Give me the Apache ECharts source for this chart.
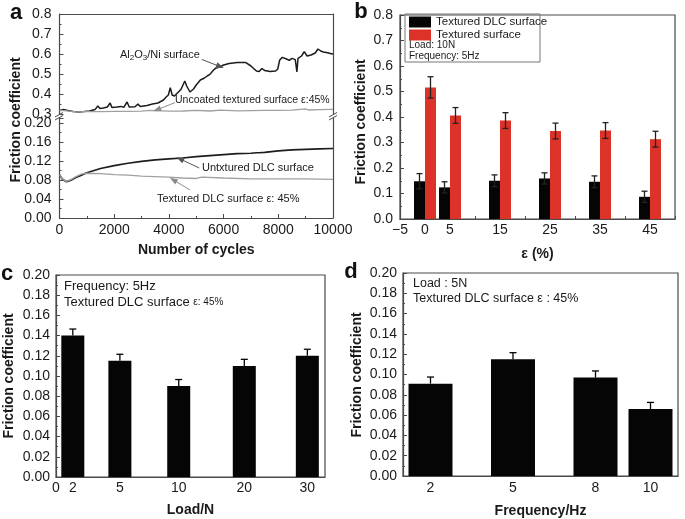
<!DOCTYPE html>
<html><head><meta charset="utf-8">
<script src="https://cdn.jsdelivr.net/npm/echarts@6/dist/echarts.min.js"></script>
<style>html,body{margin:0;padding:0;background:#fff}#c{width:685px;height:519px}</style>
</head><body><div id="c"></div>
<script>
// ---------- Panel a: friction vs number of cycles ----------
const cyclesAl = [0,150,300,500,700,900,1100,1300,1400,1480,1600,1750,1850,1920,2100,2250,2350,2470,2550,2760,2870,2950,3200,3400,3600,3800,3900,3980,4050,4120,4200,4350,4450,4580,4650,4770,4900,5000,5150,5300,5400,5500,5600,5700,5850,6000,6200,6500,6800,7000,7200,7300,7400,7500,7700,7900,7980,8050,8150,8300,8400,8500,8620,8680,8720,8850,8950,9050,9200,9350,9450,9550,9650,9800,9900,10000];
const fricAl   = [0.318,0.322,0.318,0.312,0.310,0.312,0.315,0.322,0.340,0.328,0.330,0.335,0.355,0.332,0.335,0.338,0.333,0.360,0.335,0.336,0.350,0.338,0.343,0.350,0.355,0.370,0.385,0.395,0.432,0.395,0.390,0.410,0.425,0.465,0.440,0.410,0.425,0.445,0.470,0.480,0.490,0.498,0.515,0.528,0.535,0.545,0.552,0.557,0.558,0.540,0.515,0.512,0.527,0.518,0.512,0.515,0.525,0.570,0.583,0.575,0.568,0.578,0.572,0.510,0.578,0.590,0.612,0.590,0.595,0.605,0.625,0.615,0.610,0.606,0.603,0.600];

const cyclesUnc = [0,300,600,1000,1500,2000,2500,3000,3300,3350,4000,4500,5000,5050,5500,5900,5950,6500,7000,7500,8000,8500,9000,9100,9500,10000];
const fricUnc   = [0.318,0.316,0.311,0.312,0.312,0.313,0.313,0.314,0.318,0.313,0.314,0.315,0.318,0.314,0.315,0.319,0.315,0.316,0.317,0.318,0.318,0.319,0.326,0.320,0.322,0.323];

const cyclesUnt = [0,100,250,400,600,800,1000,1500,2000,2500,3000,3500,4000,4500,5000,5500,6000,6500,7000,7200,7250,7300,7500,8000,8500,9000,9500,10000];
const fricUnt   = [0.091,0.082,0.076,0.079,0.085,0.090,0.095,0.104,0.110,0.115,0.119,0.122,0.124,0.126,0.129,0.131,0.133,0.135,0.136,0.137,0.140,0.137,0.138,0.141,0.143,0.144,0.145,0.146];

const cyclesTex = [0,100,250,400,600,800,1000,1500,2000,2500,3000,3500,4000,4500,5000,5200,5250,6000,7000,8000,9000,10000];
const fricTex   = [0.091,0.082,0.077,0.080,0.087,0.092,0.094,0.093,0.091,0.090,0.088,0.087,0.086,0.084,0.083,0.086,0.083,0.084,0.082,0.082,0.082,0.081];

// ---------- Panel b: friction vs texture density ----------
const epsVals   = [0, 5, 15, 25, 35, 45];
const epsTicks  = [-5, 0, 5, 15, 25, 35, 45];
const dlcB      = [0.148, 0.124, 0.150, 0.159, 0.146, 0.087];
const dlcBErr   = [0.030, 0.022, 0.023, 0.022, 0.023, 0.022];
const texB      = [0.516, 0.406, 0.386, 0.345, 0.347, 0.313];
const texBErr   = [0.042, 0.031, 0.031, 0.031, 0.031, 0.031];

// ---------- Panel c: friction vs load ----------
const loadLabels = ['2', '5', '10', '20', '30'];
const loadPos    = [1, 3.8, 7.3, 11.2, 14.95];   // plotting positions used by the original figure
const fricC      = [0.140, 0.115, 0.090, 0.110, 0.120];
const errC       = [0.0065, 0.0065, 0.0065, 0.0065, 0.0065];

// ---------- Panel d: friction vs frequency ----------
const freqVals = [2, 5, 8, 10];
const fricD    = [0.091, 0.115, 0.097, 0.066];
const errD     = [0.0065, 0.0065, 0.0065, 0.0065];

// ---------- helpers ----------
const FONT = 'Liberation Sans, Arial, Helvetica, sans-serif';
const TXT = '#1a1a1a';
const FRAME = '#4a4a4a';
const zip = (xs, ys) => xs.map((x, i) => [x, ys[i]]);
const zip3 = (xs, ys, es) => xs.map((x, i) => [x, ys[i], es[i]]);

function barRender(offsetPx, widthPx, color, capPx, errColor, lowerCap) {
  return function (params, api) {
    const x = api.value(0), y = api.value(1), e = api.value(2);
    const base = api.coord([x, 0]);
    const top = api.coord([x, y]);
    const hi = api.coord([x, y + e])[1];
    const lo = api.coord([x, y - e])[1];
    const cx = base[0] + offsetPx;
    const ls = { stroke: errColor, lineWidth: 1.3 };
    const children = [
      { type: 'rect', shape: { x: cx - widthPx / 2, y: top[1], width: widthPx, height: base[1] - top[1] }, style: { fill: color } },
      { type: 'line', shape: { x1: cx, y1: hi, x2: cx, y2: lowerCap ? lo : top[1] }, style: ls },
      { type: 'line', shape: { x1: cx - capPx / 2, y1: hi, x2: cx + capPx / 2, y2: hi }, style: ls }
    ];
    if (lowerCap) children.push({ type: 'line', shape: { x1: cx - capPx / 2, y1: lo, x2: cx + capPx / 2, y2: lo }, style: ls });
    return { type: 'group', children };
  };
}

const tickLabel = (size) => ({ color: TXT, fontFamily: FONT, fontSize: size });
const lineAx = { show: true, onZero: false, lineStyle: { color: FRAME, width: 1.2 } };
const inTick = { show: true, inside: true, length: 4, lineStyle: { color: FRAME } };
const inMinor = (n) => ({ show: true, splitNumber: n, length: 2, lineStyle: { color: FRAME } });

const arrowStyle = (color) => ({
  silent: true, animation: false, symbol: ['none', 'triangle'], symbolSize: [6, 8],
  label: { show: false }, lineStyle: { color: color, width: 1, type: 'solid' }, emphasis: { disabled: true }
});

const option = {
  animation: false,
  backgroundColor: '#fff',
  textStyle: { fontFamily: FONT },
  grid: [
    { left: 59.5, top: 14, width: 273.5, height: 100 },     // a upper
    { left: 59.5, top: 118, width: 273.5, height: 100 },    // a lower
    { left: 400, top: 15, width: 275, height: 204, show: true, borderColor: FRAME, borderWidth: 1.2 },  // b
    { left: 56, top: 275, width: 269, height: 202, show: true, borderColor: FRAME, borderWidth: 1.2 },  // c
    { left: 403, top: 273, width: 275, height: 209, show: true, borderColor: FRAME, borderWidth: 1.2 }  // d
  ],
  xAxis: [
    { gridIndex: 0, type: 'value', min: 0, max: 10000, position: 'top', axisLine: lineAx, axisTick: { show: false }, axisLabel: { show: false }, splitLine: { show: false } },
    { gridIndex: 1, type: 'value', min: 0, max: 10000, interval: 2000, position: 'bottom', axisLine: lineAx,
      axisTick: inTick, minorTick: inMinor(2), axisLabel: Object.assign(tickLabel(14), { margin: 5, formatter: v => String(v) }), splitLine: { show: false },
      name: 'Number of cycles', nameLocation: 'middle', nameGap: 25, nameTextStyle: { fontFamily: FONT, fontSize: 14, fontWeight: 'bold', color: TXT } },
    { gridIndex: 2, type: 'value', min: -5, max: 50, interval: 5, axisLine: lineAx,
      axisTick: { show: true, inside: true, length: 3, lineStyle: { color: FRAME } },
      axisLabel: Object.assign(tickLabel(14), { margin: 4, customValues: epsTicks, formatter: v => (v < 0 ? '\u2212' + Math.abs(v) : String(v)) }),
      splitLine: { show: false },
      name: '\u03b5 (%)', nameLocation: 'middle', nameGap: 28, nameTextStyle: { fontFamily: FONT, fontSize: 14, fontWeight: 'bold', color: TXT } },
    { gridIndex: 3, type: 'value', min: 0, max: 16, axisLine: lineAx, axisTick: { show: false },
      axisLabel: Object.assign(tickLabel(14), { margin: 4, customValues: [0].concat(loadPos),
        formatter: v => { const i = loadPos.indexOf(v); return i < 0 ? '0' : loadLabels[i]; } }),
      splitLine: { show: false },
      name: 'Load/N', nameLocation: 'middle', nameGap: 26, nameTextStyle: { fontFamily: FONT, fontSize: 14, fontWeight: 'bold', color: TXT } },
    { gridIndex: 4, type: 'value', min: 1, max: 11, axisLine: lineAx, axisTick: { show: false },
      axisLabel: Object.assign(tickLabel(14), { margin: 5, customValues: freqVals, formatter: v => String(v) }),
      splitLine: { show: false },
      name: 'Frequency/Hz', nameLocation: 'middle', nameGap: 28, nameTextStyle: { fontFamily: FONT, fontSize: 14, fontWeight: 'bold', color: TXT } }
  ],
  yAxis: [
    { gridIndex: 0, type: 'value', min: 0.3, max: 0.8, interval: 0.1, axisLine: lineAx, axisTick: inTick, minorTick: inMinor(2),
      axisLabel: Object.assign(tickLabel(14), { margin: 8, formatter: v => v.toFixed(1) }), splitLine: { show: false } },
    { gridIndex: 1, type: 'value', min: 0, max: 0.21, interval: 0.04, axisLine: lineAx, axisTick: inTick, minorTick: inMinor(2),
      axisLabel: Object.assign(tickLabel(14), { margin: 8, showMaxLabel: false, formatter: v => (Math.abs(v / 0.04 - Math.round(v / 0.04)) < 1e-6 ? v.toFixed(2) : '') }), splitLine: { show: false } },
    { gridIndex: 0, type: 'value', min: 0.3, max: 0.8, position: 'right', axisLine: lineAx, axisTick: { show: false }, axisLabel: { show: false }, splitLine: { show: false } },
    { gridIndex: 1, type: 'value', min: 0, max: 0.21, position: 'right', axisLine: lineAx, axisTick: { show: false }, axisLabel: { show: false }, splitLine: { show: false } },
    { gridIndex: 2, type: 'value', min: 0, max: 0.8, interval: 0.1, axisLine: lineAx, axisTick: inTick, minorTick: inMinor(2),
      axisLabel: Object.assign(tickLabel(14), { margin: 7, formatter: v => v.toFixed(1) }), splitLine: { show: false } },
    { gridIndex: 3, type: 'value', min: 0, max: 0.2, interval: 0.02, axisLine: lineAx, axisTick: inTick, minorTick: inMinor(2),
      axisLabel: Object.assign(tickLabel(14), { margin: 6, formatter: v => v.toFixed(2) }), splitLine: { show: false } },
    { gridIndex: 4, type: 'value', min: 0, max: 0.2, interval: 0.02, axisLine: lineAx, axisTick: inTick, minorTick: inMinor(2),
      axisLabel: Object.assign(tickLabel(14), { margin: 6, formatter: v => v.toFixed(2) }), splitLine: { show: false } }
  ],
  legend: {
    left: 409, top: 16, padding: 0, orient: 'vertical', itemWidth: 22, itemHeight: 11, itemGap: 1, icon: 'rect',
    textStyle: { fontFamily: FONT, fontSize: 11.5, color: TXT }, data: ['Textured DLC surface', 'Textured surface']
  },
  series: [
    { name: 'Al2O3/Ni surface', type: 'line', xAxisIndex: 0, yAxisIndex: 0, data: zip(cyclesAl, fricAl), showSymbol: false,
      lineStyle: { color: '#1c1c1c', width: 1.5 },
      markLine: Object.assign(arrowStyle('#555'), { data: [[{ coord: [5200, 0.573] }, { coord: [5870, 0.537] }]] }) },
    { name: 'Uncoated textured surface', type: 'line', xAxisIndex: 0, yAxisIndex: 0, data: zip(cyclesUnc, fricUnc), showSymbol: false,
      lineStyle: { color: '#a0a0a0', width: 1.3 },
      markLine: Object.assign(arrowStyle('#8a8a8a'), { data: [[{ coord: [4220, 0.357] }, { coord: [3565, 0.321] }]] }) },
    { name: 'Untxtured DLC surface', type: 'line', xAxisIndex: 1, yAxisIndex: 1, data: zip(cyclesUnt, fricUnt), showSymbol: false,
      lineStyle: { color: '#1c1c1c', width: 1.7 },
      markLine: Object.assign(arrowStyle('#555'), { data: [[{ coord: [5110, 0.105] }, { coord: [4405, 0.124] }]] }) },
    { name: 'Textured DLC surface a', type: 'line', xAxisIndex: 1, yAxisIndex: 1, data: zip(cyclesTex, fricTex), showSymbol: false,
      lineStyle: { color: '#a0a0a0', width: 1.3 },
      markLine: Object.assign(arrowStyle('#8a8a8a'), { data: [[{ coord: [4770, 0.059] }, { coord: [4160, 0.080] }]] }) },

    { name: 'Textured DLC surface', type: 'custom', xAxisIndex: 2, yAxisIndex: 4, itemStyle: { color: '#050505' },
      data: zip3(epsVals, dlcB, dlcBErr), renderItem: barRender(-5.5, 11, '#050505', 6, '#222', true) },
    { name: 'Textured surface', type: 'custom', xAxisIndex: 2, yAxisIndex: 4, itemStyle: { color: '#dc3228' },
      data: zip3(epsVals, texB, texBErr), renderItem: barRender(5.5, 11, '#dc3228', 6, '#222', true) },

    { name: 'Load', type: 'custom', xAxisIndex: 3, yAxisIndex: 5, data: zip3(loadPos, fricC, errC),
      renderItem: barRender(0, 23, '#050505', 7, '#050505', false) },
    { name: 'Frequency', type: 'custom', xAxisIndex: 4, yAxisIndex: 6, data: zip3(freqVals, fricD, errD),
      renderItem: barRender(0, 44, '#050505', 7, '#050505', false) }
  ],
  graphic: [
    // panel letters
    { type: 'text', x: 16, y: 13, style: { text: 'a', font: 'bold 22px ' + FONT, fill: '#111', align: 'center', verticalAlign: 'middle' } },
    { type: 'text', x: 361, y: 12, style: { text: 'b', font: 'bold 22px ' + FONT, fill: '#111', align: 'center', verticalAlign: 'middle' } },
    { type: 'text', x: 7, y: 274, style: { text: 'c', font: 'bold 22px ' + FONT, fill: '#111', align: 'center', verticalAlign: 'middle' } },
    { type: 'text', x: 351, y: 272, style: { text: 'd', font: 'bold 22px ' + FONT, fill: '#111', align: 'center', verticalAlign: 'middle' } },
    // y-axis titles
    { type: 'text', x: 16, y: 120, rotation: Math.PI / 2, style: { text: 'Friction coefficient', font: 'bold 14px ' + FONT, fill: TXT, align: 'center', verticalAlign: 'middle' } },
    { type: 'text', x: 361, y: 122, rotation: Math.PI / 2, style: { text: 'Friction coefficient', font: 'bold 14px ' + FONT, fill: TXT, align: 'center', verticalAlign: 'middle' } },
    { type: 'text', x: 9, y: 376, rotation: Math.PI / 2, style: { text: 'Friction coefficient', font: 'bold 14px ' + FONT, fill: TXT, align: 'center', verticalAlign: 'middle' } },
    { type: 'text', x: 357, y: 375, rotation: Math.PI / 2, style: { text: 'Friction coefficient', font: 'bold 14px ' + FONT, fill: TXT, align: 'center', verticalAlign: 'middle' } },
    // axis break marks (panel a)
    { type: 'rect', shape: { x: 55, y: 114.5, width: 8, height: 3 }, style: { fill: '#fff' } },
    { type: 'line', shape: { x1: 55, y1: 117, x2: 63, y2: 112.5 }, style: { stroke: FRAME, lineWidth: 1 } },
    { type: 'line', shape: { x1: 55, y1: 120, x2: 63, y2: 115.5 }, style: { stroke: FRAME, lineWidth: 1 } },
    { type: 'line', shape: { x1: 329, y1: 117, x2: 337, y2: 112.5 }, style: { stroke: FRAME, lineWidth: 1 } },
    { type: 'line', shape: { x1: 329, y1: 120, x2: 337, y2: 115.5 }, style: { stroke: FRAME, lineWidth: 1 } },
    // panel a annotations
    { type: 'text', x: 120, y: 55, style: { text: '{n|Al}{s|2}{n|O}{s|3}{n|/Ni surface}', fill: TXT, verticalAlign: 'middle',
        rich: { n: { fontFamily: FONT, fontSize: 11, lineHeight: 14, verticalAlign: 'middle', fill: TXT }, s: { fontFamily: FONT, fontSize: 8, lineHeight: 14, verticalAlign: 'bottom', fill: TXT } } } },
    { type: 'text', x: 175, y: 100, style: { text: 'Uncoated textured surface \u03b5:45%', font: '10.5px ' + FONT, fill: TXT, verticalAlign: 'middle' } },
    { type: 'text', x: 202, y: 168, style: { text: 'Untxtured DLC surface', font: '11px ' + FONT, fill: TXT, verticalAlign: 'middle' } },
    { type: 'text', x: 157, y: 199, style: { text: 'Textured DLC surface \u03b5: 45%', font: '11px ' + FONT, fill: TXT, verticalAlign: 'middle' } },
    // panel b legend box + notes
    { type: 'rect', shape: { x: 405, y: 14, width: 135, height: 48 }, style: { fill: 'none', stroke: '#777', lineWidth: 1 } },
    { type: 'text', x: 409, y: 45, style: { text: 'Load: 10N', font: '10px ' + FONT, fill: TXT, verticalAlign: 'middle' } },
    { type: 'text', x: 409, y: 56, style: { text: 'Frequency: 5Hz', font: '10px ' + FONT, fill: TXT, verticalAlign: 'middle' } },
    // panel c notes
    { type: 'text', x: 64, y: 286, style: { text: 'Frequency: 5Hz', font: '13px ' + FONT, fill: TXT, verticalAlign: 'middle' } },
    { type: 'text', x: 64, y: 302, style: { text: '{n|Textured DLC surface }{s|\u03b5: 45%}', verticalAlign: 'middle',
        rich: { n: { fontFamily: FONT, fontSize: 13, fill: TXT }, s: { fontFamily: FONT, fontSize: 10, fill: TXT } } } },
    // panel d notes
    { type: 'text', x: 413, y: 284, style: { text: 'Load : 5N', font: '12.5px ' + FONT, fill: TXT, verticalAlign: 'middle' } },
    { type: 'text', x: 413, y: 299, style: { text: 'Textured DLC surface \u03b5 : 45%', font: '12.5px ' + FONT, fill: TXT, verticalAlign: 'middle' } }
  ]
};

const chart = echarts.init(document.getElementById('c'), null, { renderer: 'canvas' });
chart.setOption(option);
</script>
</body></html>
